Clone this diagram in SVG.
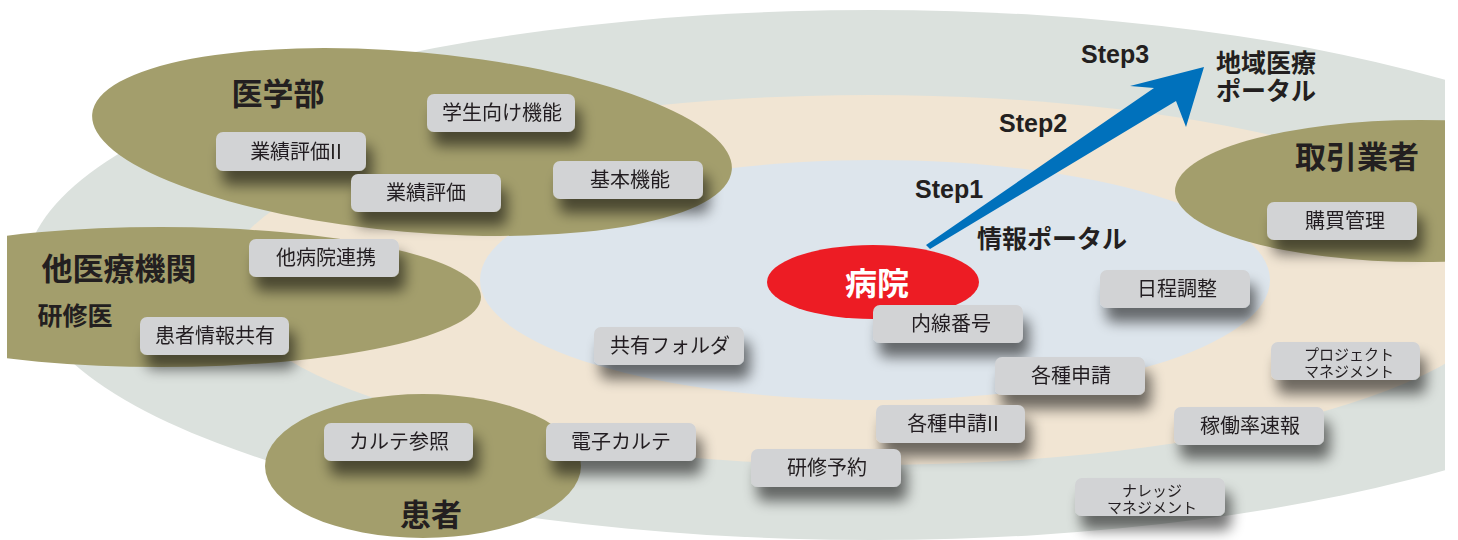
<svg xmlns="http://www.w3.org/2000/svg" width="1458" height="540" viewBox="0 0 1458 540">
<defs>
<clipPath id="frame"><rect x="7" y="0" width="1438" height="540"/></clipPath>
<filter id="sh" x="-30%" y="-50%" width="170%" height="240%">
<feGaussianBlur in="SourceAlpha" stdDeviation="7"/>
<feOffset dx="6" dy="14" result="b"/>
<feComponentTransfer><feFuncA type="linear" slope="0.55"/></feComponentTransfer>
<feMerge><feMergeNode/><feMergeNode in="SourceGraphic"/></feMerge>
</filter>
<style>
.olive{fill:#a39e6c}
.box{fill:#d2d3d5}
.bt{font-family:"Noto Sans CJK JP","Noto Sans",sans-serif;font-size:20px;fill:#231f20;text-anchor:middle}
.bs{font-family:"Noto Sans CJK JP","Noto Sans",sans-serif;font-size:15px;fill:#231f20;text-anchor:middle}
.tt{font-family:"Noto Sans CJK JP","Noto Sans",sans-serif;font-weight:bold;fill:#231f20}
.st{font-family:"Liberation Sans",Arial,sans-serif;font-weight:bold;font-size:25px;fill:#231f20}
</style>
</defs>
<rect width="1458" height="540" fill="#ffffff"/>
<g id="zones" clip-path="url(#frame)">
<ellipse cx="872" cy="275" rx="847" ry="265" fill="#dbe1dd"/>
<ellipse cx="870" cy="280" rx="645" ry="185" fill="#f1e5d3"/>
<ellipse cx="875" cy="280" rx="395" ry="120" fill="#dde5ec"/>
<ellipse class="olive" cx="412" cy="142" rx="321" ry="90" transform="rotate(5 412 142)"/>
<ellipse class="olive" cx="161" cy="297" rx="320" ry="70"/>
<ellipse class="olive" cx="1420" cy="191" rx="245" ry="71"/>
<ellipse class="olive" cx="423" cy="466" rx="158" ry="72"/>
</g>
<g id="connectors">
<polygon points="926,245 1154,88 1130,86 1204,67 1186,127 1176,101 930,249" fill="#0071bc"/>
</g>
<g id="hospital">
<ellipse cx="873" cy="282" rx="106" ry="37" fill="#ed1c24"/>
<text x="877" y="295" class="tt" font-size="32" style="fill:#ffffff" text-anchor="middle">病院</text>
</g>
<g id="labels">
<g id="lbl-igakubu"><text x="278" y="105" class="tt" font-size="31" text-anchor="middle">医学部</text></g>
<g id="lbl-tairyo"><text x="119" y="280" class="tt" font-size="31" text-anchor="middle">他医療機関</text></g>
<g id="lbl-kenshui"><text x="75" y="325" class="tt" font-size="25" text-anchor="middle">研修医</text></g>
<g id="lbl-kanja"><text x="431" y="526" class="tt" font-size="31" text-anchor="middle">患者</text></g>
<g id="lbl-torihiki"><text x="1357" y="168" class="tt" font-size="31" text-anchor="middle">取引業者</text></g>
<g id="lbl-chiiki"><text class="tt" font-size="25"><tspan x="1216" y="72">地域医療</tspan><tspan x="1216" y="100">ポータル</tspan></text></g>
<g id="lbl-joho"><text x="977" y="248" class="tt" font-size="25">情報ポータル</text></g>
<g id="lbl-step1"><text x="915" y="198" class="st">Step1</text></g>
<g id="lbl-step2"><text x="999" y="132" class="st">Step2</text></g>
<g id="lbl-step3"><text x="1081" y="63" class="st">Step3</text></g>
</g>
<g id="nodes">
<g id="n-gakusei" filter="url(#sh)"><rect class="box" x="427" y="94" width="148" height="38" rx="7"/><text class="bt" x="502" y="120">学生向け機能</text></g>
<g id="n-gyoseki2" filter="url(#sh)"><rect class="box" x="216" y="132" width="150" height="39" rx="7"/><text class="bt" x="296" y="159">業績評価II</text></g>
<g id="n-gyoseki" filter="url(#sh)"><rect class="box" x="351" y="174" width="150" height="38" rx="7"/><text class="bt" x="426" y="200">業績評価</text></g>
<g id="n-kihon" filter="url(#sh)"><rect class="box" x="553" y="161" width="150" height="38" rx="7"/><text class="bt" x="630" y="187">基本機能</text></g>
<g id="n-tabyoin" filter="url(#sh)"><rect class="box" x="249" y="239" width="150" height="38" rx="7"/><text class="bt" x="326" y="265">他病院連携</text></g>
<g id="n-kanjajoho" filter="url(#sh)"><rect class="box" x="140" y="317" width="149" height="38" rx="7"/><text class="bt" x="215" y="343">患者情報共有</text></g>
<g id="n-folder" filter="url(#sh)"><rect class="box" x="594" y="327" width="150" height="38" rx="7"/><text class="bt" x="670" y="353">共有フォルダ</text></g>
<g id="n-karutesansho" filter="url(#sh)"><rect class="box" x="324" y="423" width="149" height="38" rx="7"/><text class="bt" x="399" y="449">カルテ参照</text></g>
<g id="n-denshi" filter="url(#sh)"><rect class="box" x="546" y="423" width="150" height="38" rx="7"/><text class="bt" x="621" y="449">電子カルテ</text></g>
<g id="n-kobai" filter="url(#sh)"><rect class="box" x="1267" y="202" width="150" height="38" rx="7"/><text class="bt" x="1345" y="228">購買管理</text></g>
<g id="n-nittei" filter="url(#sh)"><rect class="box" x="1100" y="270" width="150" height="38" rx="7"/><text class="bt" x="1177" y="296">日程調整</text></g>
<g id="n-naisen" filter="url(#sh)"><rect class="box" x="873" y="305" width="150" height="38" rx="7"/><text class="bt" x="951" y="331">内線番号</text></g>
<g id="n-shinsei" filter="url(#sh)"><rect class="box" x="995" y="357" width="150" height="38" rx="7"/><text class="bt" x="1071" y="383">各種申請</text></g>
<g id="n-project" filter="url(#sh)"><rect class="box" x="1271" y="342" width="149" height="38" rx="7"/><text class="bs"><tspan x="1349" y="360">プロジェクト</tspan><tspan x="1349" y="377">マネジメント</tspan></text></g>
<g id="n-shinsei2" filter="url(#sh)"><rect class="box" x="876" y="405" width="149" height="38" rx="7"/><text class="bt" x="953" y="431">各種申請II</text></g>
<g id="n-kadoritsu" filter="url(#sh)"><rect class="box" x="1174" y="407" width="150" height="38" rx="7"/><text class="bt" x="1250" y="433">稼働率速報</text></g>
<g id="n-kenshu" filter="url(#sh)"><rect class="box" x="751" y="449" width="150" height="38" rx="7"/><text class="bt" x="827" y="475">研修予約</text></g>
<g id="n-knowledge" filter="url(#sh)"><rect class="box" x="1075" y="478" width="150" height="38" rx="7"/><text class="bs"><tspan x="1152" y="496">ナレッジ</tspan><tspan x="1152" y="513">マネジメント</tspan></text></g>
</g>
</svg>
